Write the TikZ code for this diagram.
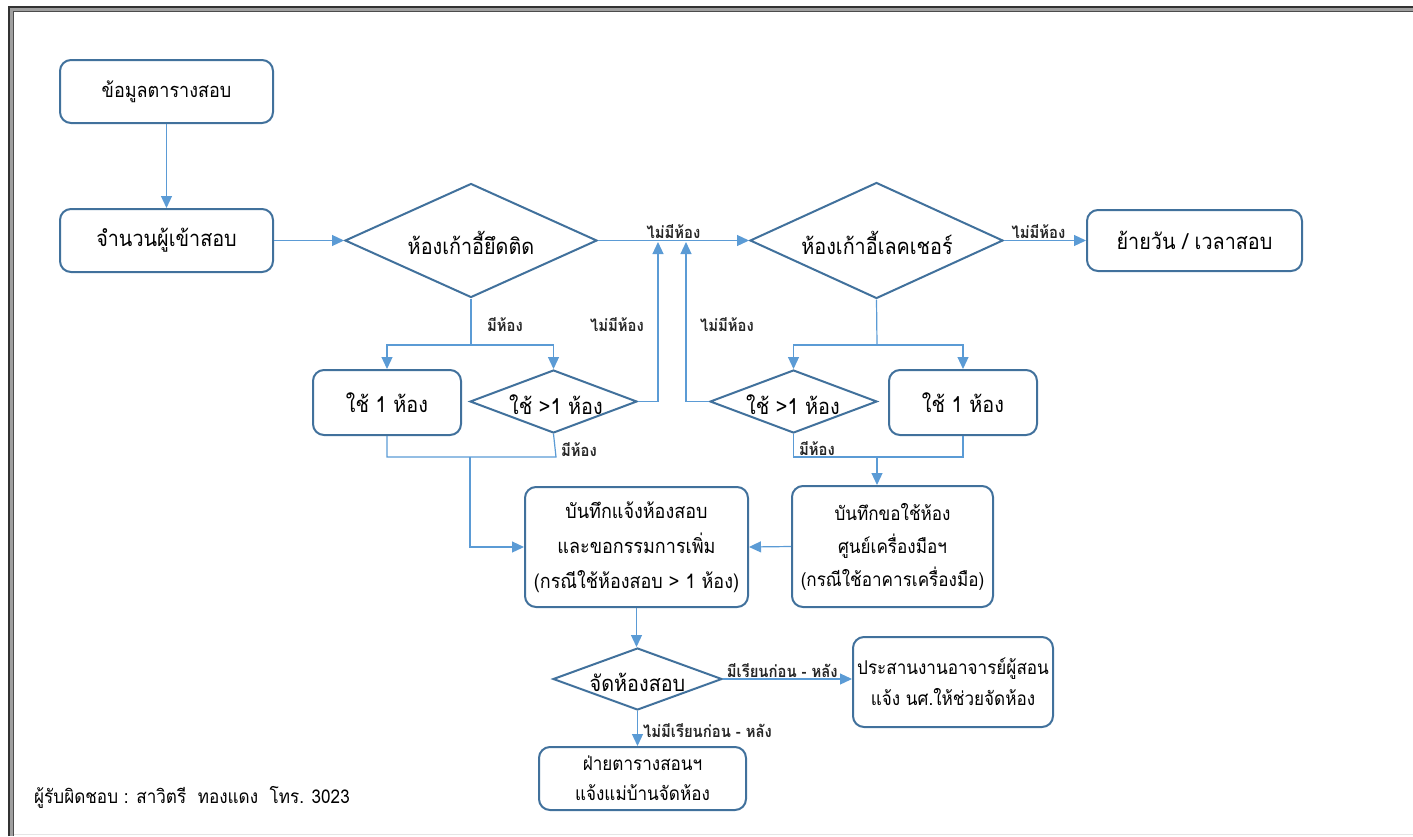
\documentclass[tikz,border=0pt]{standalone}
\usepackage{fontspec}
\setmainfont[Script=Thai, FakeStretch=0.9]{Loma}
\usetikzlibrary{shapes.geometric, arrows.meta}
\definecolor{nodeb}{HTML}{41719C}
\definecolor{conn}{HTML}{5B9BD5}
\begin{document}
\begin{tikzpicture}[x=1pt,y=-1pt,
 box/.style={draw=nodeb, line width=2pt, rounded corners=11pt, fill=white, align=center, font=\fontsize{22}{34}\selectfont, inner sep=0pt},
 dia/.style={draw=nodeb, line width=2pt, diamond, inner sep=0pt, fill=white},
 dtxt/.style={font=\fontsize{22}{26}\selectfont, inner sep=0pt},
 line/.style={draw=conn, line width=1.2pt},
 arr/.style={line, -{Triangle[length=12pt,width=11pt]}},
 lbl/.style={font=\bfseries\fontsize{16.5}{18}\selectfont, inner sep=1pt, text=black!85}]
\useasboundingbox (0,0) rectangle (1413,836);
% frame
\draw[line width=6pt, gray!75] (11,836) -- (11,9) -- (1413,9);
\draw[line width=1.6pt, gray!40!black] (9,836) -- (9,7) -- (1413,7);
\draw[line width=1.2pt, gray!60!black] (13.5,836) -- (13.5,11.5) -- (1413,11.5);
\draw[line width=1pt, gray!20] (14,834) -- (1413,834);

% nodes
\node[box, font=\fontsize{20}{24}\selectfont, minimum width=213pt, minimum height=63pt] (n1) at (166.5,91.5) {ข้อมูลตารางสอบ};
\node[box, minimum width=213pt, minimum height=63pt] (n2) at (166.5,240.5) {จำนวนผู้เข้าสอบ};
\node[dia, minimum width=252pt, minimum height=114pt] (d3) at (471,240.5) {};
\node[dtxt] at (471,243) {ห้องเก้าอี้ยึดติด};
\node[dia, minimum width=253pt, minimum height=116pt] (d4) at (876.5,240.5) {};
\node[dtxt] at (877,243) {ห้องเก้าอี้เลคเชอร์};
\node[box, minimum width=215pt, minimum height=61pt] (n5) at (1194.5,240.5) {ย้ายวัน / เวลาสอบ};
\node[box, minimum width=148pt, minimum height=65pt] (n6) at (387,402.5) {ใช้ 1 ห้อง};
\node[dia, minimum width=167pt, minimum height=63pt] (d7) at (553.5,401.5) {};
\node[dtxt] at (556,405) {ใช้ >1 ห้อง};
\node[dia, minimum width=167pt, minimum height=63pt] (d8) at (793.5,401.5) {};
\node[dtxt] at (793,405) {ใช้ >1 ห้อง};
\node[box, minimum width=148pt, minimum height=65pt] (n9) at (963,402.5) {ใช้ 1 ห้อง};
\node[box, font=\fontsize{20}{35}\selectfont, minimum width=223pt, minimum height=120pt] (n10) at (636.5,547) {บันทึกแจ้งห้องสอบ\\และขอกรรมการเพิ่ม\\(กรณีใช้ห้องสอบ > 1 ห้อง)};
\node[box, font=\fontsize{19}{33}\selectfont, minimum width=201pt, minimum height=121pt] (n11) at (892.5,546.5) {บันทึกขอใช้ห้อง\\ศูนย์เครื่องมือฯ\\(กรณีใช้อาคารเครื่องมือ)};
\node[dia, minimum width=169pt, minimum height=62pt] (d12) at (637.5,679) {};
\node[dtxt] at (637.5,682) {จัดห้องสอบ};
\node[box, font=\fontsize{19}{31}\selectfont, minimum width=200pt, minimum height=90pt] (n13) at (953,682) {ประสานงานอาจารย์ผู้สอน\\แจ้ง นศ.ให้ช่วยจัดห้อง};
\node[box, font=\fontsize{19}{30}\selectfont, minimum width=207pt, minimum height=63pt] (n14) at (642.5,778.5) {ฝ่ายตารางสอนฯ\\แจ้งแม่บ้านจัดห้อง};
\node[anchor=west, font=\fontsize{19}{22}\selectfont, inner sep=0pt] (foot) at (34,797) {ผู้รับผิดชอบ : สาวิตรี\ \ ทองแดง\ \ โทร. 3023};

% junction coordinates
\coordinate (j1) at (471,345);
\coordinate (j2) at (877,345);
\coordinate (u1) at (658,242);
\coordinate (u2) at (686,242);
\coordinate (m1) at (556,457);
\coordinate (m1s) at (470,457);
\coordinate (m2) at (963,457);
\coordinate (m2s) at (877,457);

% connectors
\draw[arr] (n1.south) -- (n2.north);
\draw[arr] (n2.east) -- (d3.west);
\draw[arr] (d3.east) -- node[lbl, above, pos=0.5] {ไม่มีห้อง} (d4.west);
\draw[arr] (d4.east) -- node[lbl, above, pos=0.42] {ไม่มีห้อง} (n5.west);
\draw[line] (d3.south) -- (j1);
\draw[arr] (j1) -| (n6.north);
\draw[arr] (j1) -| (d7.north);
\draw[line] (d4.south) -- (j2);
\draw[arr] (j2) -| (d8.north);
\draw[arr] (j2) -| (n9.north);
\draw[arr] (d7.east) -| (u1);
\draw[arr] (d8.west) -| (u2);
\draw[line] (n6.south) |- (m1) -- (d7.south);
\draw[arr] (m1s) |- (n10.west);
\draw[line] (d8.south) |- (m2) -- (n9.south);
\draw[arr] (m2s) -- (m2s |- n11.north);
\draw[arr] (n11.west) -- (n10.east);
\draw[arr] (n10.south) -- (n10.south |- d12.north);
\draw[arr] (d12.east) -- node[lbl, above, pos=0.46] {มีเรียนก่อน - หลัง} (n13.west |- d12.east);
\draw[arr] (d12.south) -- node[lbl, right, pos=0.55, xshift=4pt] {ไม่มีเรียนก่อน - หลัง} (d12.south |- n14.north);

% labels
\node[lbl] (l1) at (505,325) {มีห้อง};
\node[lbl] (l2) at (617,325) {ไม่มีห้อง};
\node[lbl] (l3) at (727,325) {ไม่มีห้อง};
\node[lbl] (l4) at (579,450) {มีห้อง};
\node[lbl] (l5) at (817,449) {มีห้อง};
\end{tikzpicture}
\end{document}
